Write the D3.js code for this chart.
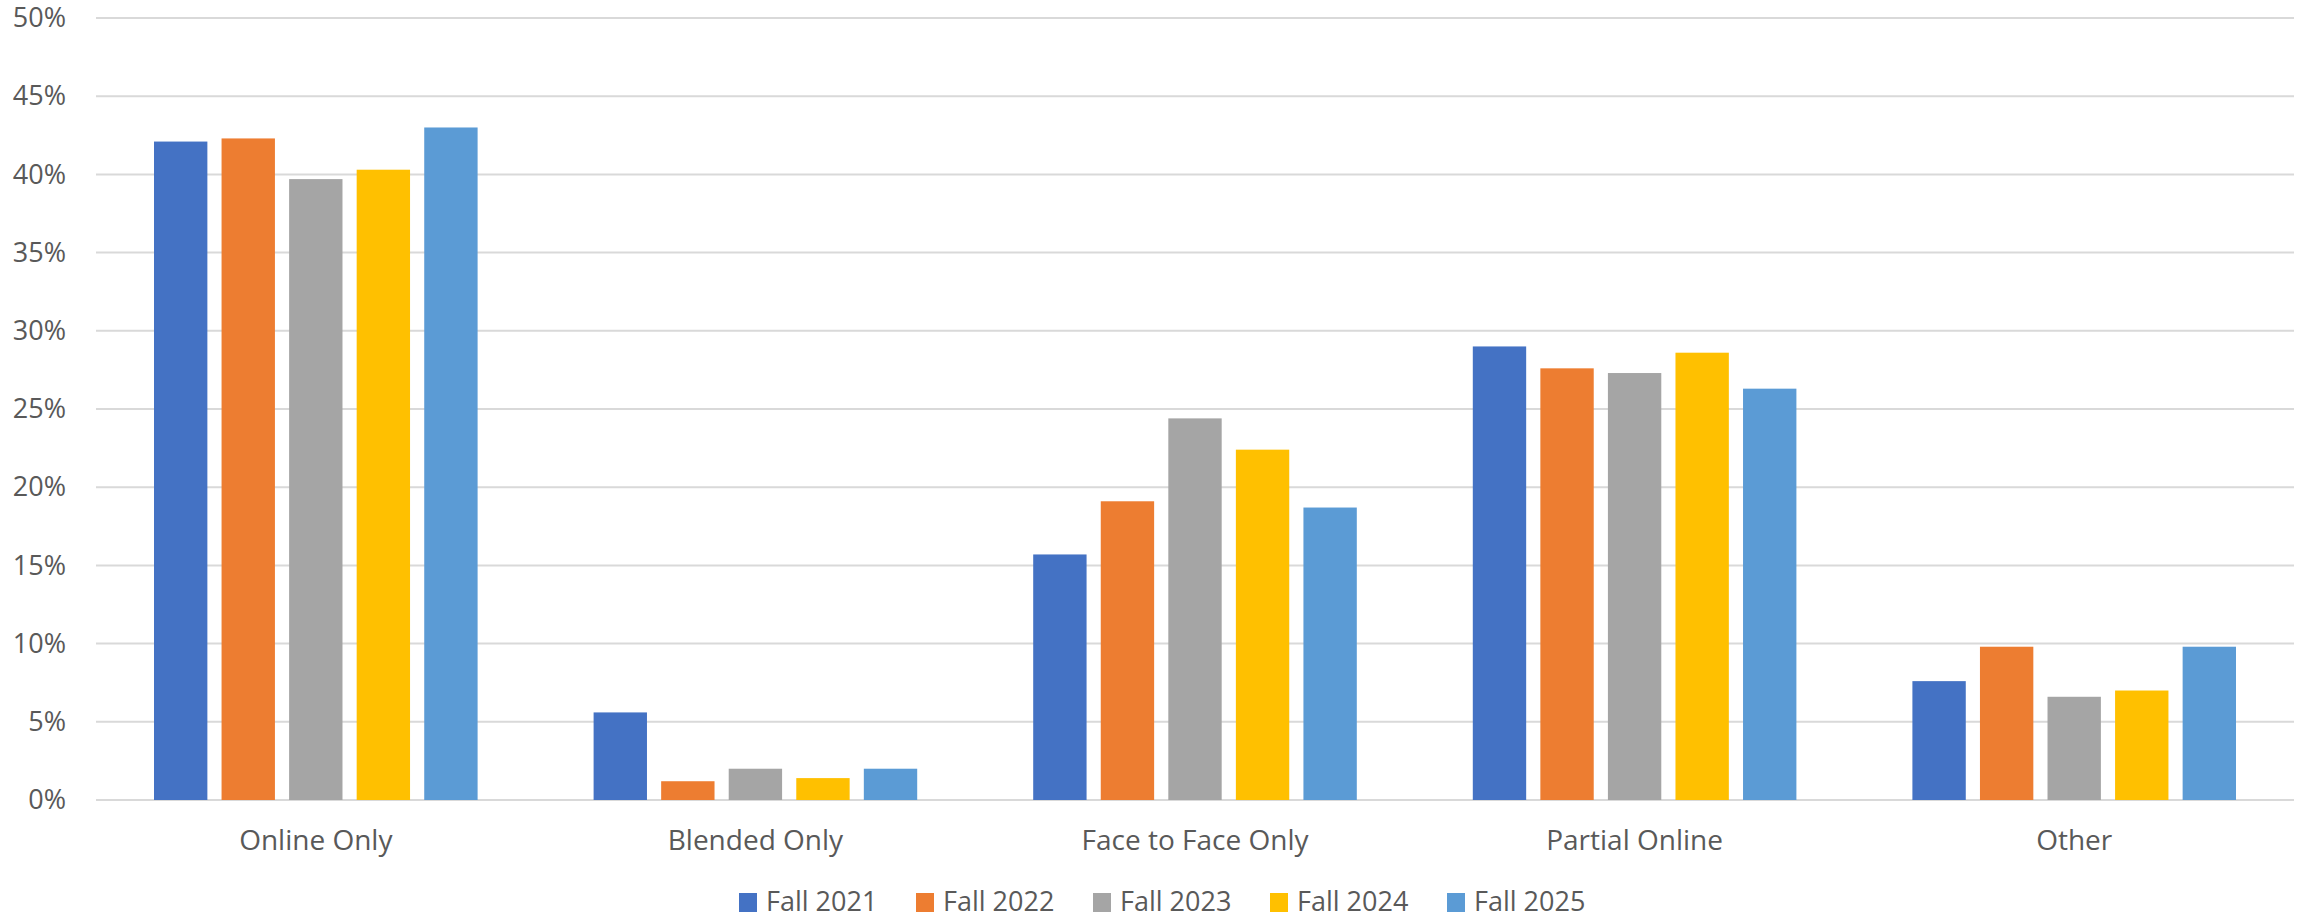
<!DOCTYPE html>
<html>
<head>
<meta charset="utf-8">
<script src="https://cdn.jsdelivr.net/npm/d3@7"></script>
<style>
  body { margin: 0; background: #fff; }
  text { font-family: "Open Sans", sans-serif; fill: #595959; }
</style>
</head>
<body>
<svg id="chart" width="2297" height="916"></svg>
<script>
const categories = ["Online Only", "Blended Only", "Face to Face Only", "Partial Online", "Other"];
const seriesNames = ["Fall 2021", "Fall 2022", "Fall 2023", "Fall 2024", "Fall 2025"];
const colors = ["#4472C4", "#ED7D31", "#A5A5A5", "#FFC000", "#5B9BD5"];

// percent values, one array per series (same order as categories)
const fall2021 = [42.1, 5.6, 15.7, 29.0, 7.6];
const fall2022 = [42.3, 1.2, 19.1, 27.6, 9.8];
const fall2023 = [39.7, 2.0, 24.4, 27.3, 6.6];
const fall2024 = [40.3, 1.4, 22.4, 28.6, 7.0];
const fall2025 = [43.0, 2.0, 18.7, 26.3, 9.8];
const seriesValues = [fall2021, fall2022, fall2023, fall2024, fall2025];

const yTicks = [0, 5, 10, 15, 20, 25, 30, 35, 40, 45, 50];

const svg = d3.select("#chart");
const margin = {left: 96, right: 3, top: 18, bottom: 116};
const width = +svg.attr("width"), height = +svg.attr("height");

const x0 = d3.scaleBand()
    .domain(categories)
    .range([margin.left, width - margin.right])
    .paddingInner(0)
    .paddingOuter(0);

// Excel style: gap between groups ~ 2.2 bar widths
const groupPad = 58;
const x1 = d3.scaleBand()
    .domain(seriesNames)
    .range([groupPad, x0.bandwidth() - groupPad])
    .paddingInner(0.21)
    .paddingOuter(0);

const y = d3.scaleLinear()
    .domain([0, 50])
    .range([height - margin.bottom, margin.top]);

// gridlines
svg.append("g")
    .attr("class", "grid")
  .selectAll("line")
  .data(yTicks)
  .join("line")
    .attr("x1", margin.left)
    .attr("x2", width - margin.right)
    .attr("y1", d => y(d))
    .attr("y2", d => y(d))
    .attr("stroke", "#d9d9d9")
    .attr("stroke-width", 2);

// y axis labels
const yAxis = svg.append("g")
    .attr("transform", `translate(${margin.left},0)`)
    .call(d3.axisLeft(y).tickValues(yTicks).tickFormat(d => d + "%").tickSize(0).tickPadding(30));
yAxis.select(".domain").remove();
yAxis.selectAll("text")
    .style("font-size", "27px")
    .attr("fill", "#595959");

// bars
const groups = svg.append("g")
  .selectAll("g")
  .data(categories)
  .join("g")
    .attr("transform", d => `translate(${x0(d)},0)`);

groups.selectAll("rect")
  .data((c, ci) => seriesNames.map((s, si) => ({series: s, idx: si, value: seriesValues[si][ci]})))
  .join("rect")
    .attr("x", d => x1(d.series))
    .attr("width", x1.bandwidth())
    .attr("y", d => y(d.value))
    .attr("height", d => y(0) - y(d.value))
    .attr("fill", d => colors[d.idx]);

// category axis
const xAxis = svg.append("g")
    .attr("transform", `translate(0,${y(0)})`)
    .call(d3.axisBottom(x0).tickSize(0).tickPadding(30));
xAxis.select(".domain").remove();
xAxis.selectAll("text")
    .style("font-size", "28px")
    .attr("fill", "#595959");

// legend
const legendX = 739, legendStep = 177, legendY = 893;
const legend = svg.append("g")
  .selectAll("g")
  .data(seriesNames)
  .join("g")
    .attr("transform", (d, i) => `translate(${legendX + i * legendStep},${legendY})`);

legend.append("rect")
    .attr("width", 18)
    .attr("height", 19)
    .attr("fill", (d, i) => colors[i]);

legend.append("text")
    .attr("x", 27)
    .attr("y", 18)
    .style("font-size", "27px")
    .text(d => d);
</script>
</body>
</html>
